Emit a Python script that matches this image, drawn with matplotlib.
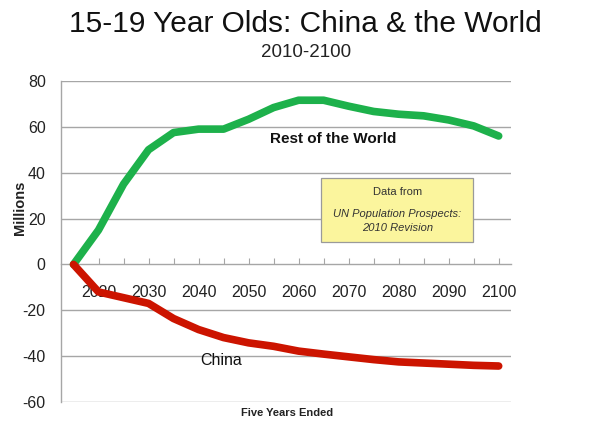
import matplotlib
matplotlib.use("Agg")
import matplotlib.pyplot as plt
from matplotlib.patches import Rectangle

plt.rcParams['font.family'] = ['Liberation Sans', 'DejaVu Sans']

years = list(range(2015, 2101, 5))
rest_of_world = [0, 15, 35, 50, 57.5, 59, 59, 63.3, 68.4, 71.6, 71.6, 69, 66.7, 65.5, 64.8, 63, 60.4, 56]
china = [0, -12, -14.5, -17, -23.6, -28.4, -31.9, -34.2, -35.7, -37.8, -39.1, -40.3, -41.5, -42.5, -43, -43.5, -44, -44.3]
yticks = [-60, -40, -20, 0, 20, 40, 60, 80]
xlabel_years = [2020, 2030, 2040, 2050, 2060, 2070, 2080, 2090, 2100]

fig = plt.figure(figsize=(6.10, 4.23), dpi=100)
ax = fig.add_axes([0.100, 0.0496, 0.738, 0.759])

grid_c = '#a6a6a6'
for y in yticks:
    if y != 0:
        ax.axhline(y, color=grid_c, lw=1.0, zorder=1)

ax.plot(years, rest_of_world, color='#1db14b', lw=5.5, solid_capstyle='round', solid_joinstyle='round', zorder=3)
ax.plot(years, china, color='#cc1400', lw=5.5, solid_capstyle='round', solid_joinstyle='round', zorder=3)

ax.set_xlim(2012.5, 2102.5)
ax.set_ylim(-60, 80)

for s in ['top', 'right']:
    ax.spines[s].set_visible(False)
ax.spines['left'].set_color(grid_c)
ax.spines['bottom'].set_color(grid_c)
ax.spines['bottom'].set_position(('data', 0))
ax.spines['left'].set_linewidth(1.0)
ax.spines['bottom'].set_linewidth(1.0)

ax.set_yticks(yticks)
ax.set_yticklabels([str(v) for v in yticks], fontsize=11.5, color='#222222')
ax.tick_params(axis='y', length=0, pad=11)

ax.set_xticks(years[1:])
ax.set_xticklabels([str(y) if y in xlabel_years else '' for y in years[1:]], fontsize=11.5, color='#222222')
ax.tick_params(axis='x', direction='in', length=4, color=grid_c, pad=15)

fig.text(0.500, 0.943, '15-19 Year Olds: China & the World', ha='center', va='center', fontsize=21.5, color='#111111')
fig.text(0.501, 0.875, '2010-2100', ha='center', va='center', fontsize=13.5, color='#222222')
fig.text(0.470, 0.024, 'Five Years Ended', ha='center', va='center', fontsize=8, fontweight='bold', color='#222222')
fig.text(0.033, 0.509, 'Millions', ha='center', va='center', rotation=90, fontsize=10.5, fontweight='bold', color='#222222')

ax.text(2066.9, 54.6, 'Rest of the World', ha='center', va='center', fontsize=11, fontweight='bold', zorder=4, color='#111111')
ax.text(2044.5, -42.0, 'China', ha='center', va='center', fontsize=11.5, zorder=4, color='#111111')

ax.add_patch(Rectangle((2064.5, 9.6), 30.4, 28.2, facecolor='#fbf59d', edgecolor='#9a9a9a', lw=0.9, zorder=5))
ax.text(2079.7, 31.4, 'Data from', ha='center', va='center', fontsize=8, zorder=6, color='#333333')
ax.text(2079.7, 22.0, 'UN Population Prospects:', ha='center', va='center', fontsize=8, fontstyle='italic', zorder=6, color='#333333')
ax.text(2079.7, 15.7, '2010 Revision', ha='center', va='center', fontsize=8, fontstyle='italic', zorder=6, color='#333333')

fig.savefig('out.png', dpi=100)
